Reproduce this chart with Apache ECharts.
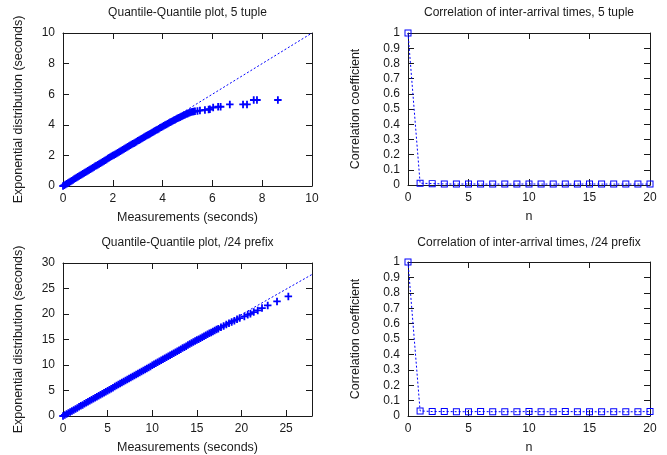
<!DOCTYPE html>
<html>
<head>
<meta charset="utf-8">
<script src="https://cdn.jsdelivr.net/npm/echarts@6/dist/echarts.min.js"></script>
<style>
html,body{margin:0;padding:0;background:#fff;}
#c{width:667px;height:455px;}
</style>
</head>
<body>
<div id="c"></div>
<script>
// ---- Data ----
const titles = [
  'Quantile-Quantile plot, 5 tuple',
  'Correlation of inter-arrival times, 5 tuple',
  'Quantile-Quantile plot, /24 prefix',
  'Correlation of inter-arrival times, /24 prefix'
];
const qqXName = 'Measurements (seconds)';
const qqYName = 'Exponential distribution (seconds)';
const corrXName = 'n';
const corrYName = 'Correlation coefficient';

// Q-Q, 5 tuple: [measured quantile, exponential quantile]
const qq5 = [
  [0,0],[0.05,0.05],[0.1,0.1],[0.15,0.15],[0.2,0.2],[0.25,0.25],[0.3,0.3],[0.35,0.35],[0.4,0.4],[0.45,0.45],
  [0.5,0.5],[0.55,0.55],[0.6,0.6],[0.65,0.65],[0.7,0.7],[0.75,0.75],[0.8,0.8],[0.85,0.85],[0.9,0.9],[0.95,0.95],
  [1.0,1.0],[1.05,1.05],[1.1,1.1],[1.15,1.15],[1.2,1.2],[1.25,1.25],[1.3,1.3],[1.35,1.34],[1.4,1.39],[1.45,1.44],
  [1.5,1.49],[1.55,1.54],[1.6,1.59],[1.65,1.64],[1.7,1.69],[1.75,1.74],[1.8,1.79],[1.85,1.84],[1.9,1.89],[1.95,1.94],
  [2.0,1.99],[2.05,2.03],[2.1,2.08],[2.15,2.13],[2.2,2.18],[2.25,2.22],[2.3,2.27],[2.35,2.32],[2.4,2.37],[2.45,2.42],
  [2.5,2.47],[2.55,2.51],[2.6,2.56],[2.65,2.61],[2.7,2.66],[2.75,2.71],[2.8,2.76],[2.85,2.8],[2.9,2.85],[2.95,2.9],
  [3.0,2.95],[3.05,2.99],[3.1,3.04],[3.15,3.09],[3.2,3.14],[3.25,3.18],[3.3,3.23],[3.35,3.28],[3.4,3.33],[3.45,3.37],
  [3.5,3.42],[3.55,3.47],[3.6,3.52],[3.65,3.56],[3.7,3.61],[3.75,3.66],[3.8,3.7],[3.85,3.75],[3.9,3.8],[3.95,3.84],
  [4.0,3.89],[4.05,3.93],[4.1,3.98],[4.15,4.02],[4.2,4.07],[4.25,4.11],[4.3,4.16],[4.35,4.2],[4.4,4.25],[4.45,4.29],
  [4.5,4.33],[4.55,4.38],[4.6,4.42],[4.65,4.46],[4.7,4.5],[4.75,4.54],[4.8,4.58],[4.85,4.62],[4.9,4.66],[4.95,4.7],
  [5.0,4.73],[5.05,4.77],[5.1,4.8],[5.15,4.83],[5.2,4.85],[5.25,4.87],[5.3,4.88],
  [5.4,4.9],[5.5,4.93],[5.7,4.97],[5.85,5.0],[5.9,5.02],[6.03,5.13],[6.23,5.18],[6.33,5.18],
  [6.7,5.33],[7.23,5.33],[7.39,5.33],[7.66,5.62],[7.79,5.62],[8.63,5.62]
];
const qq5Ref = [[0,0],[10,10]];

// Q-Q, /24 prefix: [measured quantile, exponential quantile]
const qq24 = [
  [0,0],[0.2,0.2],[0.4,0.4],[0.6,0.6],[0.8,0.79],[1.0,0.99],[1.2,1.19],[1.4,1.39],[1.6,1.59],[1.8,1.79],
  [2.0,1.99],[2.2,2.18],[2.4,2.38],[2.6,2.58],[2.8,2.78],[3.0,2.98],[3.2,3.18],[3.4,3.38],[3.6,3.57],[3.8,3.77],
  [4.0,3.97],[4.2,4.17],[4.4,4.37],[4.6,4.57],[4.8,4.77],[5.0,4.97],[5.2,5.16],[5.4,5.36],[5.6,5.56],[5.8,5.76],
  [6.0,5.96],[6.2,6.16],[6.4,6.36],[6.6,6.55],[6.8,6.75],[7.0,6.95],[7.2,7.15],[7.4,7.35],[7.6,7.55],[7.8,7.75],
  [8.0,7.94],[8.2,8.14],[8.4,8.34],[8.6,8.54],[8.8,8.74],[9.0,8.94],[9.2,9.14],[9.4,9.33],[9.6,9.53],[9.8,9.73],
  [10.0,9.93],[10.2,10.13],[10.4,10.33],[10.6,10.53],[10.8,10.72],[11.0,10.92],[11.2,11.12],[11.4,11.32],[11.6,11.52],[11.8,11.72],
  [12.0,11.92],[12.2,12.11],[12.4,12.31],[12.6,12.51],[12.8,12.71],[13.0,12.91],[13.2,13.11],[13.4,13.31],[13.6,13.5],[13.8,13.7],
  [14.0,13.9],[14.2,14.1],[14.4,14.3],[14.6,14.5],[14.8,14.69],[15.0,14.88],[15.2,15.07],[15.4,15.26],[15.6,15.45],[15.8,15.64],
  [16.0,15.83],[16.2,16.02],[16.4,16.21],[16.6,16.39],[16.8,16.58],[17.0,16.76],[17.2,16.95],[17.4,17.13],
  [17.7,17.4],[18.0,17.67],[18.3,17.93],[18.6,18.2],[18.9,18.45],[19.2,18.7],[19.5,18.95],[19.8,19.2],
  [20.32,19.52],[20.7,19.85],[21.0,20.04],[21.37,20.37],[21.82,20.7],[22.3,21.16],[22.94,21.69],[23.98,22.47],[25.25,23.45]
];
const qq24Ref = [[0,0],[27.9,27.75]];

// Autocorrelation of inter-arrival times
const lags   = [0,1,2,3,4,5,6,7,8,9,10,11,12,13,14,15,16,17,18,19,20];
const corr5  = [1,0.012,0.009,0.007,0.006,0.007,0.006,0.006,0.006,0.006,0.007,0.006,0.006,0.006,0.006,0.007,0.006,0.006,0.006,0.006,0.006];
const corr24 = [1,0.033,0.029,0.029,0.028,0.028,0.029,0.028,0.028,0.028,0.029,0.028,0.028,0.029,0.028,0.028,0.027,0.028,0.027,0.028,0.029];

// ---- Chart ----
const FONT = "'Liberation Sans', Arial, Helvetica, sans-serif";
const TXT = '#1a1a1a';
const BLUE = '#0000ff';
const FRAME = '#1a1a1a';
const plusPath = 'path://M3.8,0H6.2V3.8H10V6.2H6.2V10H3.8V6.2H0V3.8H3.8Z';
const boxPath = 'path://M0,0H10V10H0Z M1.4,1.4V8.6H8.6V1.4Z';
const TICK_FS = 12, NAME_FS = 12.5, TITLE_FS = 12;

const grids = [
  {left:63, top:33, width:249, height:153},
  {left:408, top:33, width:242, height:152},
  {left:63, top:263, width:249, height:153},
  {left:408, top:262, width:242, height:154}
];

const axisCfg = [
  {x:{min:0,max:10,interval:2}, y:{min:0,max:10,interval:2}, xName:qqXName, yName:qqYName, yGap:38},
  {x:{min:0,max:20,interval:5}, y:{min:0,max:1,interval:0.1}, xName:corrXName, yName:corrYName, yGap:46},
  {x:{min:0,max:27.9,interval:5}, y:{min:0,max:30,interval:5}, xName:qqXName, yName:qqYName, yGap:38},
  {x:{min:0,max:20,interval:5}, y:{min:0,max:1,interval:0.1}, xName:corrXName, yName:corrYName, yGap:46}
];

const xAxes = [], yAxes = [];
axisCfg.forEach((a, i) => {
  const line = {show:true, onZero:false, lineStyle:{color:FRAME, width:1}};
  const tick = {show:true, inside:true, length:6, lineStyle:{color:FRAME, width:1}};
  xAxes.push({
    type:'value', gridIndex:i, position:'bottom', min:a.x.min, max:a.x.max, interval:a.x.interval,
    axisLine:line, axisTick:tick, splitLine:{show:false},
    axisLabel:{color:TXT, fontFamily:FONT, fontSize:TICK_FS, margin:7, showMaxLabel: a.x.max % a.x.interval === 0},
    name:a.xName, nameLocation:'middle', nameGap:25,
    nameTextStyle:{color:TXT, fontFamily:FONT, fontSize:NAME_FS}
  });
  xAxes.push({
    type:'value', gridIndex:i, position:'top', min:a.x.min, max:a.x.max, interval:a.x.interval,
    axisLine:line, axisTick:tick, axisLabel:{show:false}, splitLine:{show:false}
  });
  yAxes.push({
    type:'value', gridIndex:i, position:'left', min:a.y.min, max:a.y.max, interval:a.y.interval,
    axisLine:line, axisTick:tick, splitLine:{show:false},
    axisLabel:{color:TXT, fontFamily:FONT, fontSize:TICK_FS, margin:8},
    name:a.yName, nameLocation:'middle', nameGap:a.yGap,
    nameTextStyle:{color:TXT, fontFamily:FONT, fontSize:NAME_FS}
  });
  yAxes.push({
    type:'value', gridIndex:i, position:'right', min:a.y.min, max:a.y.max, interval:a.y.interval,
    axisLine:line, axisTick:tick, axisLabel:{show:false}, splitLine:{show:false}
  });
});

const dotted = {color:BLUE, width:1, type:[2,2]};
const lagPairs = vals => lags.map((n, k) => [n, vals[k]]);

const series = [
  {type:'line', xAxisIndex:0, yAxisIndex:0, data:qq5Ref, symbol:'none', lineStyle:dotted, z:2, silent:true},
  {type:'scatter', xAxisIndex:0, yAxisIndex:0, data:qq5, symbol:plusPath, symbolSize:7.5,
   itemStyle:{color:BLUE, opacity:1}, clip:false, z:3, silent:true},
  {type:'line', xAxisIndex:2, yAxisIndex:2, data:lagPairs(corr5), symbol:boxPath, symbolSize:7, showAllSymbol:true,
   lineStyle:dotted, itemStyle:{color:BLUE, borderWidth:0}, clip:false, z:3, silent:true},
  {type:'line', xAxisIndex:4, yAxisIndex:4, data:qq24Ref, symbol:'none', lineStyle:dotted, z:2, silent:true},
  {type:'scatter', xAxisIndex:4, yAxisIndex:4, data:qq24, symbol:plusPath, symbolSize:7.5,
   itemStyle:{color:BLUE, opacity:1}, clip:false, z:3, silent:true},
  {type:'line', xAxisIndex:6, yAxisIndex:6, data:lagPairs(corr24), symbol:boxPath, symbolSize:7, showAllSymbol:true,
   lineStyle:dotted, itemStyle:{color:BLUE, borderWidth:0}, clip:false, z:3, silent:true}
];

const titleCfg = titles.map((t, i) => ({
  text:t,
  left: grids[i].left + grids[i].width/2,
  top: i < 2 ? 7 : 237,
  padding:0,
  textAlign:'center',
  textStyle:{color:TXT, fontFamily:FONT, fontSize:TITLE_FS, fontWeight:'normal'}
}));

const chart = echarts.init(document.getElementById('c'), null, {renderer:'canvas'});
chart.setOption({
  animation:false,
  backgroundColor:'#fff',
  title:titleCfg,
  grid:grids,
  xAxis:xAxes,
  yAxis:yAxes,
  series:series
});
</script>
</body>
</html>
